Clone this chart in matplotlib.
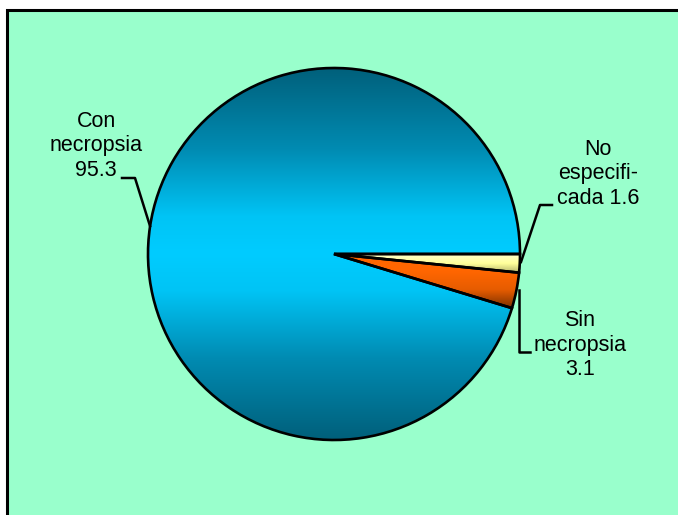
import numpy as np
import matplotlib.pyplot as plt
from matplotlib.colors import LinearSegmentedColormap
from matplotlib.patches import Rectangle

# datos del grafico (porcentajes)
categorias = ["No especificada", "Sin necropsia", "Con necropsia"]
valores = [1.6, 3.1, 95.3]
etiquetas = ["No\nespecifi-\ncada 1.6", "Sin\nnecropsia\n3.1", "Con\nnecropsia\n95.3"]

H = 515  # alto en pixeles, para pasar de coordenadas de pantalla


def py(y):
    return H - y


fig = plt.figure(figsize=(6.78, 5.15), dpi=100)
fig.patch.set_facecolor("white")
ax = fig.add_axes([0, 0, 1, 1])

# fondo verde con borde (solo izquierda y arriba quedan dentro)
ax.add_patch(Rectangle((7, -50), 900, py(10) + 50, facecolor="#99ffcc",
                       edgecolor="black", linewidth=2.2, zorder=0))

centro = (334, py(254))
radio = 186

wedges, _ = ax.pie(valores, center=centro, radius=radio, startangle=0,
                   counterclock=False,
                   wedgeprops=dict(edgecolor="black", linewidth=1.9,
                                   facecolor="none"))

# degradados estilo Excel
cmaps = [
    LinearSegmentedColormap.from_list("amarillo", ["#ffffcc", "#ffff99", "#b3b36b"]),
    LinearSegmentedColormap.from_list("naranja", ["#ff6600", "#ff6600", "#e65c00", "#7a3000"]),
    LinearSegmentedColormap.from_list(
        "azul", [(0, "#005f7a"), (0.22, "#008bb2"), (0.4, "#00c4f5"), (0.5, "#00ccff"),
                 (0.6, "#00c4f5"), (0.78, "#008bb2"), (1, "#005f7a")]),
]

for w, cm in zip(wedges, cmaps):
    w.set_zorder(3)
    v = w.get_path().vertices
    x0, x1 = v[:, 0].min(), v[:, 0].max()
    y0, y1 = v[:, 1].min(), v[:, 1].max()
    grad = np.linspace(0, 1, 256).reshape(-1, 1)
    im = ax.imshow(grad, cmap=cm, extent=[x0, x1, y0, y1], origin="upper",
                   aspect="auto", zorder=2, interpolation="bilinear")
    im.set_clip_path(w)

ax.set_xlim(0, 678)
ax.set_ylim(0, H)
ax.set_aspect("auto")
ax.axis("off")

fuente = dict(fontsize=15.5, family="Liberation Sans", ha="center", va="center",
              multialignment="center", linespacing=1.2, zorder=5)
posiciones = [(598, 174), (580, 345), (96, 146)]
for txt, (x, y) in zip(etiquetas, posiciones):
    ax.text(x, py(y), txt, **fuente)

# lineas guia
guias = [
    [(552, 205), (540, 205), (521, 262)],
    [(519, 290), (519, 352), (530, 352)],
    [(122, 178), (135, 178), (150, 226)],
]
for g in guias:
    xs = [p[0] for p in g]
    ys = [py(p[1]) for p in g]
    ax.plot(xs, ys, color="black", linewidth=1.8, zorder=4)

fig.savefig("out.png", dpi=100)
